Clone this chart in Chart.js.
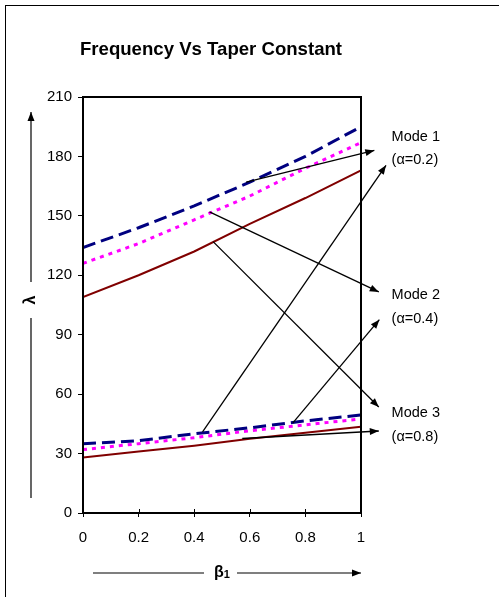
<!DOCTYPE html>
<html>
<head>
<meta charset="utf-8">
<script src="https://cdn.jsdelivr.net/npm/chart.js@4.4.1/dist/chart.umd.min.js"></script>
<style>
  html, body { margin: 0; padding: 0; background: #fff; }
  #wrap { position: relative; width: 499px; height: 597px; }
</style>
</head>
<body>
<div id="wrap"><canvas id="freqChart"></canvas></div>
<script>
// -------------------- DATA --------------------
const betaVals = [0, 0.2, 0.4, 0.6, 0.8, 1];

// upper group of curves
const alpha02High = [134, 144, 155, 167, 180, 195];
const alpha04High = [126, 136, 148, 160, 174, 187];
const alpha08High = [109, 120, 132, 146, 159, 173];

// lower group of curves
const alpha02Low = [35, 36.5, 40, 43, 46.5, 49.5];
const alpha04Low = [32, 35, 38, 41.5, 44.5, 47.5];
const alpha08Low = [28, 31, 34, 37.5, 40.5, 43.5];

const yTicks = [0, 30, 60, 90, 120, 150, 180, 210];

// callout labels and arrows (data coordinates, arrows run past x = 1)
const modeLabels = [
  { text: "Mode 1", x: 1.11, y: 190 },
  { text: "(\u03b1=0.2)", x: 1.11, y: 178 },
  { text: "Mode 2", x: 1.11, y: 110 },
  { text: "(\u03b1=0.4)", x: 1.11, y: 98 },
  { text: "Mode 3", x: 1.11, y: 50.5 },
  { text: "(\u03b1=0.8)", x: 1.11, y: 38.5 }
];
const arrows = [
  { from: [0.587, 167], to: [1.048, 183] },
  { from: [0.430, 41], to: [1.090, 175.5] },
  { from: [0.455, 152], to: [1.064, 111.6] },
  { from: [0.755, 45.5], to: [1.066, 97.6] },
  { from: [0.468, 137], to: [1.064, 53.5] },
  { from: [0.573, 37.6], to: [1.064, 41.4] }
];

const FONT = "'Liberation Sans', Arial, sans-serif";

function pts(ys) {
  return ys.map((y, i) => ({ x: betaVals[i], y: y }));
}

function navy(label, ys) {
  return { label, data: pts(ys), borderColor: "#000080", borderWidth: 3, borderDash: [13, 6], pointRadius: 0, fill: false, tension: 0 };
}
function magenta(label, ys) {
  return { label, data: pts(ys), borderColor: "#ff00ff", borderWidth: 3, borderDash: [4, 5], pointRadius: 0, fill: false, tension: 0 };
}
function maroon(label, ys) {
  return { label, data: pts(ys), borderColor: "#800000", borderWidth: 2, pointRadius: 0, fill: false, tension: 0 };
}

function drawArrow(c, x1, y1, x2, y2) {
  c.beginPath();
  c.moveTo(x1, y1);
  c.lineTo(x2, y2);
  c.stroke();
  const a = Math.atan2(y2 - y1, x2 - x1);
  const len = 9, w = 3.5;
  c.beginPath();
  c.moveTo(x2, y2);
  c.lineTo(x2 - len * Math.cos(a) + w * Math.sin(a), y2 - len * Math.sin(a) - w * Math.cos(a));
  c.lineTo(x2 - len * Math.cos(a) - w * Math.sin(a), y2 - len * Math.sin(a) + w * Math.cos(a));
  c.closePath();
  c.fill();
}

// -------------------- DECORATIONS --------------------
const decorations = {
  id: "decorations",
  afterDraw(chart) {
    const c = chart.ctx;
    const area = chart.chartArea;
    const xs = chart.scales.x, ys = chart.scales.y;
    c.save();
    c.strokeStyle = "#000";
    c.fillStyle = "#000";

    // plot frame
    c.lineWidth = 2;
    c.strokeRect(area.left, area.top, area.right - area.left, area.bottom - area.top);

    // x ticks also poke into the plot
    c.lineWidth = 1;
    betaVals.forEach(v => {
      const px = Math.round(xs.getPixelForValue(v)) + 0.5;
      c.beginPath();
      c.moveTo(px, area.bottom);
      c.lineTo(px, area.bottom - 4);
      c.stroke();
    });

    // callout arrows
    c.lineWidth = 1.3;
    arrows.forEach(a => {
      drawArrow(c,
        xs.getPixelForValue(a.from[0]), ys.getPixelForValue(a.from[1]),
        xs.getPixelForValue(a.to[0]), ys.getPixelForValue(a.to[1]));
    });

    // callout text
    c.font = "14.5px " + FONT;
    c.textAlign = "left";
    c.textBaseline = "middle";
    modeLabels.forEach(l => {
      c.fillText(l.text, xs.getPixelForValue(l.x), ys.getPixelForValue(l.y));
    });

    // title
    c.font = "bold 18.6px " + FONT;
    c.textAlign = "center";
    c.textBaseline = "alphabetic";
    c.fillText("Frequency Vs Taper Constant", 211, 55);

    // y axis label with arrow
    c.lineWidth = 1.2;
    const lx = 31;
    c.beginPath();
    c.moveTo(lx, 498);
    c.lineTo(lx, 318);
    c.stroke();
    drawArrow(c, lx, 282, lx, 112);
    c.save();
    c.translate(lx, 300);
    c.rotate(-Math.PI / 2);
    c.font = "bold 16px " + FONT;
    c.textAlign = "center";
    c.textBaseline = "middle";
    c.fillText("\u03bb", 0, 0);
    c.restore();

    // x axis label with arrow
    const ly = 573;
    c.beginPath();
    c.moveTo(93, ly);
    c.lineTo(204, ly);
    c.stroke();
    drawArrow(c, 237, ly, 361, ly);
    c.font = "bold 16px " + FONT;
    c.textAlign = "left";
    c.textBaseline = "middle";
    c.fillText("\u03b2", 214, ly);
    const bw = c.measureText("\u03b2").width;
    c.font = "bold 11px " + FONT;
    c.fillText("1", 214 + bw, ly + 2);

    // outer border
    c.lineWidth = 1;
    c.strokeRect(5.5, 5.5, 600, 600);
    c.restore();
  }
};

// -------------------- CHART --------------------
const ctx = document.getElementById("freqChart").getContext("2d");

new Chart(ctx, {
  type: "line",
  data: {
    datasets: [
      navy("\u03b1=0.2 upper", alpha02High),
      magenta("\u03b1=0.4 upper", alpha04High),
      maroon("\u03b1=0.8 upper", alpha08High),
      navy("\u03b1=0.2 lower", alpha02Low),
      magenta("\u03b1=0.4 lower", alpha04Low),
      maroon("\u03b1=0.8 lower", alpha08Low)
    ]
  },
  options: {
    responsive: true,
    maintainAspectRatio: false,
    animation: false,
    layout: { padding: { left: 0, right: 138, top: 97, bottom: 54 } },
    plugins: { legend: { display: false }, title: { display: false }, tooltip: { enabled: false } },
    scales: {
      x: {
        type: "linear",
        min: 0,
        max: 1,
        afterFit: s => { s.height = 30; },
        afterBuildTicks: s => { s.ticks = betaVals.map(v => ({ value: v })); },
        grid: { drawOnChartArea: false, drawTicks: true, tickLength: 4, color: "#000" },
        border: { display: false },
        ticks: { color: "#000", font: { family: FONT, size: 15 }, padding: 12, maxRotation: 0,
          callback: v => String(v) }
      },
      y: {
        min: 0,
        max: 210,
        afterFit: s => { s.width = 83; },
        afterBuildTicks: s => { s.ticks = yTicks.map(v => ({ value: v })); },
        grid: { drawOnChartArea: false, drawTicks: true, tickLength: 5, color: "#000" },
        border: { display: false },
        ticks: { color: "#000", font: { family: FONT, size: 15 }, padding: 6 }
      }
    }
  },
  plugins: [decorations]
});
</script>
</body>
</html>
